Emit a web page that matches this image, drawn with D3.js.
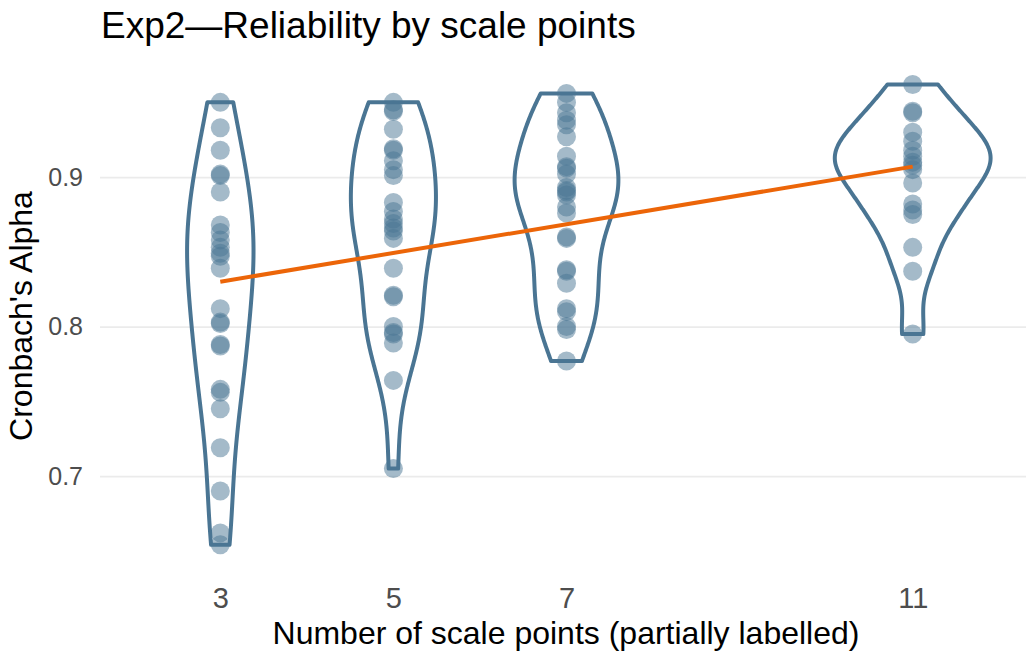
<!DOCTYPE html>
<html>
<head>
<meta charset="utf-8">
<script src="https://cdn.jsdelivr.net/npm/d3@7"></script>
<style>
    body { margin: 0; background: #ffffff; }
    svg { font-family: "Liberation Sans", Arial, sans-serif; }
    .grid line { stroke: #ebebeb; stroke-width: 1.8; }
    .tick text { fill: #4d4d4d; }
    .y-axis .tick text { font-size: 25px; }
    .x-axis .tick text { font-size: 29px; }
</style>
</head>
<body>
<svg id="chart" width="1026" height="654"></svg>
<script>

// scale point conditions
const scalePoints = [3, 5, 7, 11];

// Cronbach's alpha per condition
const alpha3 = [0.950, 0.933, 0.918, 0.902, 0.901, 0.890, 0.868, 0.863, 0.858, 0.853,
    0.849, 0.847, 0.839, 0.812, 0.803, 0.802, 0.788, 0.787, 0.758, 0.756,
    0.745, 0.719, 0.690, 0.662, 0.654];
const alpha5 = [0.950, 0.945, 0.944, 0.932, 0.919, 0.918, 0.911, 0.905, 0.901, 0.883,
    0.877, 0.872, 0.869, 0.866, 0.864, 0.859, 0.839, 0.821, 0.820, 0.800,
    0.796, 0.795, 0.789, 0.764, 0.705];
const alpha7 = [0.956, 0.950, 0.943, 0.938, 0.935, 0.927, 0.914, 0.907, 0.906, 0.902,
    0.893, 0.891, 0.890, 0.888, 0.880, 0.876, 0.860, 0.859, 0.838, 0.837,
    0.829, 0.812, 0.810, 0.800, 0.798, 0.777];
const alpha11 = [0.962, 0.944, 0.943, 0.930, 0.924, 0.918, 0.914, 0.910, 0.908, 0.905,
    0.896, 0.882, 0.878, 0.875, 0.853, 0.837, 0.795];

// linear fit (geom_smooth lm) at the ends of the x range
const fitX = [3, 11];
const fitY = [0.830, 0.907];

const xTicks = [3, 5, 7, 11];
const yTicks = [0.7, 0.8, 0.9];

const groups = scalePoints.map((x, i) => ({ x: x, values: [alpha3, alpha5, alpha7, alpha11][i] }));


class ViolinChart {

    constructor(svg, groups) {

        this.svg = svg;
        this.groups = groups;
        this.colour = "#4a7593";

        this.x = d3.scaleLinear().domain([1.61, 12.39]).range([100, 1033]);
        this.y = d3.scaleLinear().domain([0.6365, 0.977]).range([571, 62]);

        this.computeDensities();
        this.drawGrid();
        this.drawPoints();
        this.drawViolins();
        this.drawFit();
        this.drawText();

    }

    computeDensities() {

        // gaussian kde like R's density(), bw.nrd0, trimmed to data range
        let kde = (values) => {
            let v = values.slice().sort(d3.ascending),
                n = v.length,
                sd = d3.deviation(v),
                iqr = d3.quantileSorted(v, 0.75) - d3.quantileSorted(v, 0.25),
                bw = 0.9 * Math.min(sd, iqr / 1.34) * Math.pow(n, -0.2),
                lo = v[0],
                hi = v[n - 1];
            let out = [];
            for (let i = 0; i < 512; i++) {
                let t = lo + (hi - lo) * i / 511;
                let dens = d3.sum(v, d => Math.exp(-0.5 * ((t - d) / bw) ** 2)) / (n * bw * Math.sqrt(2 * Math.PI));
                out.push({ y: t, density: dens });
            }
            return out;
        };

        this.groups.forEach(g => g.density = kde(g.values));
        // scale = "area": all violins share one max
        let maxDensity = d3.max(this.groups, g => d3.max(g.density, d => d.density));
        this.groups.forEach(g => g.density.forEach(d => d.width = d.density / maxDensity));

    }

    drawGrid() {

        this.svg
            .append("g")
                .classed("grid", true)
                .attr("transform", "translate(100,0)")
                .call(d3.axisLeft(this.y).tickValues(yTicks).tickSize(-926).tickFormat(""))
                .call(g => g.select(".domain").remove());

        this.svg
            .append("g")
                .classed("y-axis", true)
                .attr("transform", "translate(100,0)")
                .call(d3.axisLeft(this.y).tickValues(yTicks).tickSize(0).tickPadding(17).tickFormat(d3.format(".1f")))
                .call(g => g.select(".domain").remove())
                .call(g => g.selectAll("text").attr("font-family", null));

        this.svg
            .append("g")
                .classed("x-axis", true)
                .attr("transform", "translate(0,571)")
                .call(d3.axisBottom(this.x).tickValues(xTicks).tickSize(0).tickPadding(16.4).tickFormat(d3.format("d")))
                .call(g => g.select(".domain").remove())
                .call(g => g.selectAll("text").attr("font-family", null));

    }

    drawPoints() {

        this.svg
            .append("g")
                .attr("id", "points")
                .selectAll("g")
                .data(this.groups)
                .enter()
                .append("g")
                .selectAll("circle")
                .data(g => g.values.map(v => ({ x: g.x, y: v })))
                .enter()
                .append("circle")
                    .attr("cx", d => this.x(d.x))
                    .attr("cy", d => this.y(d.y))
                    .attr("r", 9.5)
                    .attr("fill", this.colour)
                    .attr("fill-opacity", 0.5);

    }

    drawViolins() {

        let halfWidth = 0.9;

        this.svg
            .append("g")
                .attr("id", "violins")
                .selectAll("path")
                .data(this.groups)
                .enter()
                .append("path")
                    .attr("fill", "none")
                    .attr("stroke", this.colour)
                    .attr("stroke-width", 4)
                    .attr("stroke-linejoin", "round")
                    .attr("d", g => {
                        let right = g.density.map(d => [this.x(g.x + d.width * halfWidth), this.y(d.y)]),
                            left = g.density.map(d => [this.x(g.x - d.width * halfWidth), this.y(d.y)]).reverse();
                        return d3.line()(right.concat(left)) + "Z";
                    });

    }

    drawFit() {

        this.svg
            .append("line")
                .attr("id", "fit")
                .attr("x1", this.x(fitX[0]))
                .attr("y1", this.y(fitY[0]))
                .attr("x2", this.x(fitX[1]))
                .attr("y2", this.y(fitY[1]))
                .attr("stroke", "#ec6508")
                .attr("stroke-width", 4);

    }

    drawText() {

        this.svg
            .append("text")
                .attr("x", 101)
                .attr("y", 38)
                .attr("font-size", 37)
                .attr("fill", "#000000")
                .text("Exp2\u2014Reliability by scale points");

        this.svg
            .append("text")
                .attr("x", 566)
                .attr("y", 644)
                .attr("text-anchor", "middle")
                .attr("font-size", 32)
                .attr("fill", "#000000")
                .text("Number of scale points (partially labelled)");

        this.svg
            .append("text")
                .attr("transform", "translate(32,316) rotate(-90)")
                .attr("text-anchor", "middle")
                .attr("font-size", 32)
                .attr("fill", "#000000")
                .text("Cronbach's Alpha");

    }

}

new ViolinChart(d3.select("#chart"), groups);

</script>
</body>
</html>
